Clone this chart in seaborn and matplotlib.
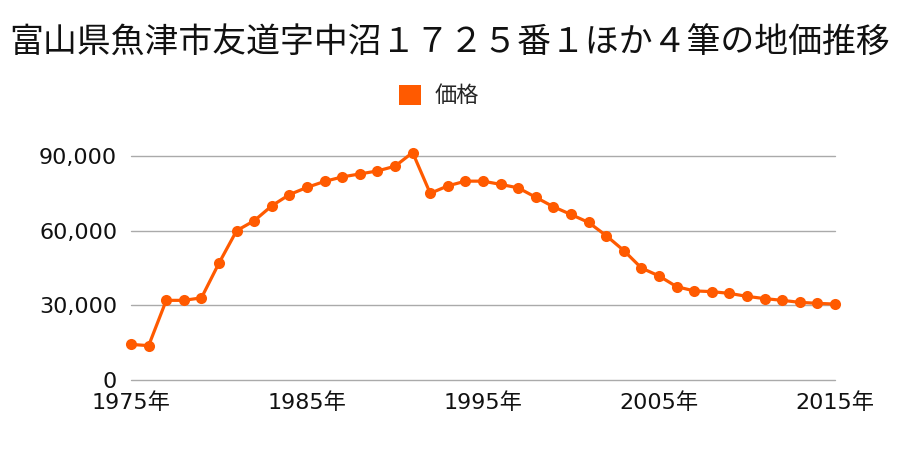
import matplotlib
matplotlib.use("Agg")
import matplotlib.pyplot as plt
import seaborn as sns
import pandas as pd
from matplotlib.patches import Patch
from matplotlib.ticker import FuncFormatter

title = "富山県魚津市友道字中沼１７２５番１ほか４筆の地価推移"
series_name = "価格"
years = list(range(1975, 2016))
prices = [14300, 13800, 32000, 32000, 33000, 47000, 60000, 64000, 70000, 74500,
          77400, 79800, 81600, 82800, 84000, 85900, 91400, 75000, 78000, 79900,
          79900, 78600, 77200, 73400, 69600, 66500, 63300, 58000, 52000, 45000,
          41800, 37500, 35800, 35500, 34800, 33600, 32700, 32000, 31200, 30800,
          30500]
yticks = [0, 30000, 60000, 90000]
xticks = [1975, 1985, 1995, 2005, 2015]

sns.set_theme(style="white")
plt.rcParams['font.family'] = ['DejaVu Sans', 'Noto Sans CJK JP']

color = "#ff5a00"
df = pd.DataFrame({"year": years, "price": prices})

fig = plt.figure(figsize=(9, 4.5), dpi=100)
ax = fig.add_axes([0.1456, 0.1556, 0.7822, 0.5364])
sns.lineplot(data=df, x="year", y="price", ax=ax, color=color, linewidth=2.3,
             marker="o", markersize=8, markeredgewidth=0, clip_on=False, zorder=3)

ax.set_xlim(1975, 2015)
ax.set_ylim(0, 97000)
ax.set_yticks(yticks)
ax.set_xticks(xticks)
ax.set_xticklabels([f"{y}年" for y in xticks])
ax.yaxis.set_major_formatter(FuncFormatter(lambda v, p: f"{int(v):,}"))
ax.tick_params(axis="both", length=0, labelsize=16, colors="#111111")
ax.tick_params(axis="y", pad=10)
ax.tick_params(axis="x", pad=9)
ax.grid(axis="y", color="#aaaaaa", linewidth=1)
ax.grid(axis="x", visible=False)
for gl in ax.get_ygridlines():
    gl.set_clip_on(False)
for s in ax.spines.values():
    s.set_visible(False)
ax.set_xlabel("")
ax.set_ylabel("")

fig.text(0.5, 0.903, title, ha="center", va="center", fontsize=24.4,
         color="#111111", family=['Noto Sans CJK JP', 'DejaVu Sans'])
fig.legend(handles=[Patch(facecolor=color, edgecolor="none", label=series_name)],
           loc="center", bbox_to_anchor=(0.488, 0.787), frameon=False,
           prop={'family': ['Noto Sans CJK JP', 'DejaVu Sans'], 'size': 16},
           handlelength=1.0, handleheight=1.0, handletextpad=0.6)

fig.savefig("out.png", dpi=100)
